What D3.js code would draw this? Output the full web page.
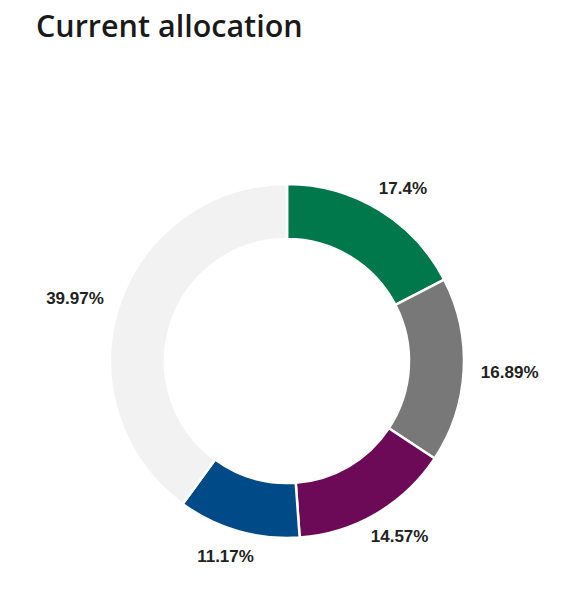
<!DOCTYPE html>
<html>
<head>
<meta charset="utf-8">
<script src="https://cdn.jsdelivr.net/npm/d3@7"></script>
<style>
  body { margin: 0; background: #fff; }
</style>
</head>
<body>
<div id="chart"></div>
<script>
const categories = ["A", "B", "C", "D", "Other"];
const shares = [17.4, 16.89, 14.57, 11.17, 39.97];
const labels = ["17.4%", "16.89%", "14.57%", "11.17%", "39.97%"];
const colors = ["#00784b", "#787878", "#6d0a58", "#004b87", "#f2f2f2"];

const width = 579, height = 599;
const cx = 287, cy = 361;
const outerR = 177, innerR = 122;

const svg = d3.select("#chart")
  .append("svg")
    .attr("width", width)
    .attr("height", height);

// title
svg.append("text")
  .attr("x", 36)
  .attr("y", 37)
  .attr("font-family", "'Open Sans', sans-serif")
  .attr("font-weight", 600)
  .attr("font-size", 30.5)
  .attr("fill", "#1a1a1a")
  .text("Current allocation");

const g = svg.append("g")
  .attr("transform", `translate(${cx},${cy})`);

const data = categories.map((c, i) => ({ cat: c, value: shares[i], label: labels[i], color: colors[i] }));

const pie = d3.pie()
  .value(d => d.value)
  .sort(null);

const arc = d3.arc()
  .innerRadius(innerR)
  .outerRadius(outerR);

const arcs = pie(data);

g.selectAll("path")
  .data(arcs)
  .join("path")
    .attr("d", arc)
    .attr("fill", d => d.data.color)
    .attr("stroke", "#fff")
    .attr("stroke-width", 2.5);

// labels outside the ring
g.selectAll("text.lbl")
  .data(arcs)
  .join("text")
    .attr("class", "lbl")
    .attr("x", d => 223 * Math.sin((d.startAngle + d.endAngle) / 2))
    .attr("y", d => -203 * Math.cos((d.startAngle + d.endAngle) / 2))
    .attr("dy", "0.36em")
    .attr("text-anchor", "middle")
    .attr("font-family", "'Liberation Sans', Arial, sans-serif")
    .attr("font-weight", "bold")
    .attr("font-size", 17)
    .attr("fill", "#222")
    .text(d => d.data.label);
</script>
</body>
</html>
